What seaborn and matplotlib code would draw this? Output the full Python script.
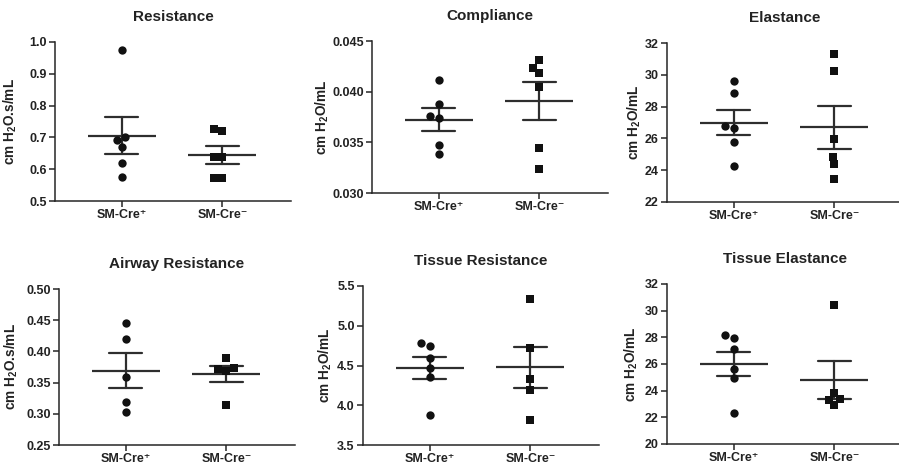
import matplotlib
matplotlib.use("Agg")
import matplotlib.pyplot as plt
from matplotlib.ticker import FormatStrFormatter
import seaborn as sns
import pandas as pd

groups = ["SM-Cre+", "SM-Cre-"]
group_labels = ["SM-Cre\u207a", "SM-Cre\u207b"]

titles = ["Resistance", "Compliance", "Elastance",
          "Airway Resistance", "Tissue Resistance", "Tissue Elastance"]
ylabels = [r"cm H$_2$O.s/mL", r"cm H$_2$O/mL", r"cm H$_2$O/mL",
           r"cm H$_2$O.s/mL", r"cm H$_2$O/mL", r"cm H$_2$O/mL"]

# values
resistance_pos = [0.976, 0.702, 0.692, 0.669, 0.618, 0.576]
resistance_neg = [0.721, 0.725, 0.639, 0.639, 0.571, 0.571]
compliance_pos = [0.0412, 0.0388, 0.0374, 0.0376, 0.0347, 0.0338]
compliance_neg = [0.0431, 0.0423, 0.0418, 0.0405, 0.0344, 0.0324]
elastance_pos = [29.60, 28.84, 26.65, 26.76, 25.78, 24.29]
elastance_neg = [31.33, 30.22, 25.94, 24.86, 24.38, 23.44]
airway_pos = [0.4456, 0.4206, 0.3587, 0.3188, 0.3023]
airway_neg = [0.3900, 0.3727, 0.3688, 0.3715, 0.3135]
tissue_res_pos = [4.749, 4.783, 4.598, 4.469, 4.351, 3.874]
tissue_res_neg = [5.340, 4.716, 4.326, 4.192, 3.810]
tissue_el_pos = [27.92, 28.15, 27.13, 25.60, 24.95, 22.35]
tissue_el_neg = [30.45, 23.81, 23.32, 23.36, 22.91]

panel_data = [
    (resistance_pos, resistance_neg),
    (compliance_pos, compliance_neg),
    (elastance_pos, elastance_neg),
    (airway_pos, airway_neg),
    (tissue_res_pos, tissue_res_neg),
    (tissue_el_pos, tissue_el_neg),
]

y_ranges = [(0.5, 1.0, 0.1), (0.030, 0.045, 0.005), (22, 32, 2),
            (0.25, 0.50, 0.05), (3.5, 5.5, 0.5), (20, 32, 2)]
y_formats = ["%.1f", "%.3f", "%.0f", "%.2f", "%.1f", "%.0f"]

sns.set_theme(style="ticks")
plt.rcParams["font.family"] = ["Liberation Sans", "DejaVu Sans"]
plt.rcParams["font.weight"] = "bold"
plt.rcParams["mathtext.fontset"] = "custom"
plt.rcParams["mathtext.rm"] = "Liberation Sans:bold"
plt.rcParams["mathtext.it"] = "Liberation Sans:bold"
plt.rcParams["mathtext.bf"] = "Liberation Sans:bold"
plt.rcParams["mathtext.default"] = "rm"

W, H = 899, 472
fig = plt.figure(figsize=(W / 100, H / 100), dpi=100)

# (left, top, bottom) in pixels, label x in axes coords
boxes = [(55, 42, 201), (372, 41, 193), (667, 43, 202),
         (59, 289, 445), (363, 286, 445), (667, 284, 444)]
label_x = [-0.153, -0.172, -0.102, -0.167, -0.123, -0.116]
ax_w = 236

dark = "#111111"
line_col = "#2e2e2e"

for i, (pos, neg) in enumerate(panel_data):
    left, top, bottom = boxes[i]
    ax = fig.add_axes([left / W, 1 - bottom / H, ax_w / W, (bottom - top) / H])

    df = pd.DataFrame({
        "group": [groups[0]] * len(pos) + [groups[1]] * len(neg),
        "value": list(pos) + list(neg),
    })

    sns.swarmplot(data=df[df.group == groups[0]], x="group", y="value",
                  order=groups, marker="o", size=6.0, color=dark, ax=ax)
    sns.swarmplot(data=df[df.group == groups[1]], x="group", y="value",
                  order=groups, marker="s", size=5.6, color=dark, ax=ax)
    sns.pointplot(data=df, x="group", y="value", order=groups,
                  errorbar="se", capsize=0.33, color=line_col,
                  marker="_", markersize=49, markeredgewidth=1.6,
                  linestyle="none", err_kws={"linewidth": 1.6}, ax=ax)

    lo, hi, step = y_ranges[i]
    n = int(round((hi - lo) / step))
    ax.set_ylim(lo, hi)
    ax.set_yticks([lo + k * step for k in range(n + 1)])
    ax.yaxis.set_major_formatter(FormatStrFormatter(y_formats[i]))
    ax.set_xlim(-0.66, 1.68)
    ax.set_xticks([0, 1])
    ax.set_xticklabels(group_labels)

    sns.despine(ax=ax)
    for s in ["left", "bottom"]:
        ax.spines[s].set_linewidth(1.1)
        ax.spines[s].set_color("#262626")
    ax.tick_params(axis="both", length=4, width=1.1, color="#262626",
                   labelcolor="#222222", pad=2)
    ax.tick_params(axis="y", labelsize=9)
    ax.tick_params(axis="x", labelsize=9)
    for lab in ax.get_yticklabels() + ax.get_xticklabels():
        lab.set_fontweight("bold")

    ax.set_xlabel("")
    ax.set_ylabel(ylabels[i], fontsize=9.8, fontweight="bold", color="#222222")
    ax.yaxis.set_label_coords(label_x[i], 0.5)
    ax.set_title(titles[i], fontsize=11, fontweight="bold",
                 color="#222222", pad=15)

fig.savefig("out.png", dpi=100)
